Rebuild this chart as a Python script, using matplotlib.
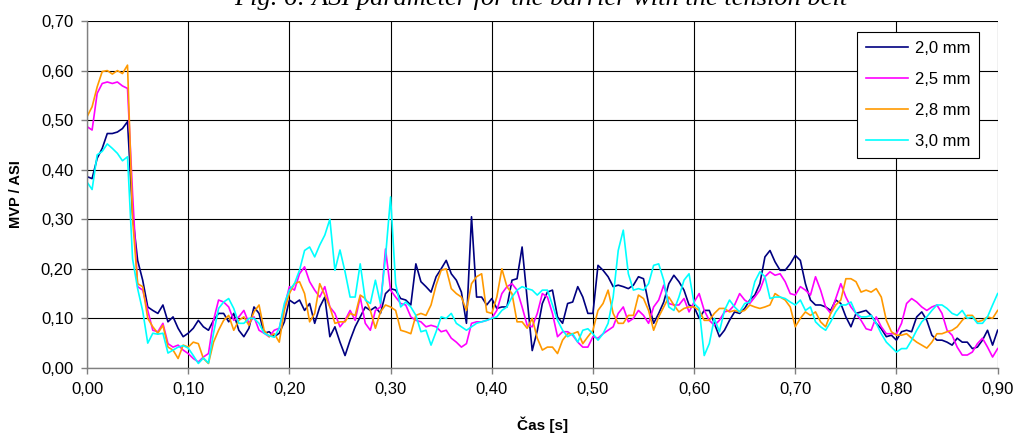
import matplotlib
matplotlib.use("Agg")
import matplotlib.pyplot as plt
import numpy as np
from matplotlib.ticker import FuncFormatter, MultipleLocator

plt.rcParams['font.family'] = ['Liberation Sans', 'DejaVu Sans']

# time axis: samples every 0.005 s from 0.00 to 0.90 s
t_start, t_stop, t_step = 0.0, 0.90, 0.005

# MVP / ASI values (10 samples per row = 0.05 s)
asi_20 = [
    0.386, 0.382, 0.423, 0.443, 0.473, 0.473, 0.476, 0.483, 0.497, 0.310,
    0.217, 0.177, 0.123, 0.116, 0.110, 0.127, 0.093, 0.103, 0.080, 0.063,
    0.070, 0.080, 0.096, 0.083, 0.076, 0.096, 0.110, 0.110, 0.093, 0.110,
    0.076, 0.063, 0.080, 0.123, 0.110, 0.070, 0.073, 0.063, 0.070, 0.093,
    0.137, 0.130, 0.137, 0.116, 0.130, 0.090, 0.123, 0.143, 0.063, 0.083,
    0.052, 0.025, 0.056, 0.083, 0.103, 0.123, 0.116, 0.123, 0.110, 0.150,
    0.160, 0.157, 0.140, 0.137, 0.127, 0.210, 0.174, 0.164, 0.153, 0.184,
    0.200, 0.217, 0.190, 0.177, 0.153, 0.090, 0.305, 0.143, 0.143, 0.127,
    0.140, 0.120, 0.123, 0.123, 0.177, 0.180, 0.244, 0.140, 0.035, 0.075,
    0.130, 0.153, 0.157, 0.103, 0.090, 0.130, 0.133, 0.164, 0.143, 0.110,
    0.110, 0.207, 0.197, 0.184, 0.164, 0.167, 0.164, 0.160, 0.167, 0.184,
    0.180, 0.130, 0.090, 0.110, 0.133, 0.170, 0.187, 0.174, 0.157, 0.127,
    0.123, 0.100, 0.116, 0.116, 0.090, 0.063, 0.076, 0.096, 0.113, 0.110,
    0.120, 0.137, 0.147, 0.170, 0.224, 0.237, 0.214, 0.197, 0.197, 0.210,
    0.227, 0.217, 0.170, 0.137, 0.127, 0.127, 0.123, 0.116, 0.137, 0.130,
    0.103, 0.083, 0.110, 0.113, 0.116, 0.106, 0.090, 0.079, 0.063, 0.066,
    0.056, 0.073, 0.076, 0.073, 0.103, 0.113, 0.096, 0.066, 0.056, 0.056,
    0.052, 0.046, 0.060, 0.052, 0.052, 0.039, 0.042, 0.056, 0.076, 0.046,
    0.076,
]

asi_25 = [
    0.487, 0.480, 0.554, 0.574, 0.577, 0.574, 0.577, 0.569, 0.564, 0.352,
    0.164, 0.157, 0.116, 0.076, 0.073, 0.090, 0.049, 0.042, 0.046, 0.036,
    0.029, 0.019, 0.012, 0.022, 0.029, 0.096, 0.137, 0.133, 0.123, 0.096,
    0.103, 0.116, 0.090, 0.103, 0.076, 0.070, 0.063, 0.076, 0.080, 0.123,
    0.164, 0.157, 0.190, 0.204, 0.174, 0.157, 0.143, 0.164, 0.123, 0.110,
    0.083, 0.096, 0.116, 0.096, 0.143, 0.090, 0.076, 0.116, 0.123, 0.240,
    0.157, 0.143, 0.130, 0.127, 0.103, 0.096, 0.093, 0.083, 0.086, 0.083,
    0.073, 0.076, 0.060, 0.052, 0.042, 0.049, 0.090, 0.093, 0.093, 0.096,
    0.100, 0.116, 0.150, 0.164, 0.170, 0.157, 0.123, 0.086, 0.083, 0.110,
    0.150, 0.143, 0.110, 0.063, 0.073, 0.073, 0.066, 0.052, 0.042, 0.042,
    0.063, 0.060, 0.069, 0.076, 0.083, 0.110, 0.123, 0.093, 0.100, 0.116,
    0.106, 0.090, 0.123, 0.137, 0.167, 0.130, 0.127, 0.127, 0.140, 0.113,
    0.133, 0.150, 0.116, 0.096, 0.086, 0.096, 0.113, 0.116, 0.127, 0.150,
    0.137, 0.130, 0.143, 0.157, 0.184, 0.194, 0.187, 0.190, 0.174, 0.150,
    0.147, 0.164, 0.157, 0.147, 0.184, 0.157, 0.123, 0.110, 0.140, 0.170,
    0.143, 0.123, 0.110, 0.096, 0.079, 0.076, 0.103, 0.083, 0.069, 0.069,
    0.069, 0.090, 0.130, 0.140, 0.133, 0.123, 0.116, 0.123, 0.127, 0.110,
    0.076, 0.066, 0.042, 0.026, 0.026, 0.032, 0.049, 0.060, 0.042, 0.022,
    0.039,
]

asi_28 = [
    0.507, 0.527, 0.567, 0.598, 0.600, 0.593, 0.600, 0.594, 0.611, 0.300,
    0.170, 0.164, 0.100, 0.083, 0.070, 0.086, 0.042, 0.036, 0.019, 0.046,
    0.042, 0.052, 0.049, 0.019, 0.009, 0.052, 0.076, 0.096, 0.106, 0.076,
    0.096, 0.103, 0.086, 0.113, 0.127, 0.076, 0.063, 0.069, 0.052, 0.116,
    0.150, 0.170, 0.174, 0.150, 0.093, 0.110, 0.170, 0.147, 0.123, 0.090,
    0.093, 0.093, 0.110, 0.106, 0.147, 0.140, 0.116, 0.080, 0.113, 0.127,
    0.123, 0.116, 0.076, 0.073, 0.069, 0.106, 0.110, 0.106, 0.127, 0.167,
    0.197, 0.200, 0.160, 0.150, 0.143, 0.116, 0.170, 0.184, 0.190, 0.113,
    0.110, 0.143, 0.200, 0.164, 0.150, 0.093, 0.093, 0.080, 0.100, 0.060,
    0.036, 0.042, 0.042, 0.029, 0.056, 0.069, 0.069, 0.073, 0.049, 0.063,
    0.076, 0.116, 0.130, 0.157, 0.110, 0.090, 0.090, 0.106, 0.106, 0.147,
    0.140, 0.116, 0.076, 0.103, 0.123, 0.143, 0.127, 0.113, 0.120, 0.123,
    0.123, 0.116, 0.096, 0.096, 0.110, 0.120, 0.120, 0.113, 0.116, 0.113,
    0.116, 0.127, 0.123, 0.120, 0.123, 0.127, 0.150, 0.143, 0.137, 0.123,
    0.083, 0.100, 0.113, 0.106, 0.113, 0.093, 0.083, 0.110, 0.127, 0.137,
    0.180, 0.180, 0.174, 0.153, 0.157, 0.153, 0.160, 0.143, 0.096, 0.073,
    0.066, 0.066, 0.069, 0.060, 0.052, 0.046, 0.040, 0.052, 0.069, 0.069,
    0.073, 0.076, 0.083, 0.096, 0.106, 0.106, 0.093, 0.096, 0.103, 0.100,
    0.116,
]

asi_30 = [
    0.375, 0.360, 0.430, 0.437, 0.452, 0.443, 0.433, 0.418, 0.426, 0.220,
    0.160, 0.115, 0.050, 0.070, 0.068, 0.070, 0.030, 0.036, 0.042, 0.045,
    0.040, 0.025, 0.009, 0.020, 0.010, 0.070, 0.120, 0.133, 0.140, 0.120,
    0.090, 0.090, 0.100, 0.100, 0.090, 0.070, 0.065, 0.062, 0.080, 0.130,
    0.157, 0.170, 0.197, 0.237, 0.244, 0.224, 0.248, 0.268, 0.300, 0.197,
    0.238, 0.194, 0.143, 0.143, 0.210, 0.137, 0.130, 0.177, 0.130, 0.224,
    0.345, 0.170, 0.123, 0.133, 0.123, 0.106, 0.073, 0.076, 0.046, 0.073,
    0.103, 0.100, 0.110, 0.090, 0.083, 0.076, 0.083, 0.090, 0.093, 0.096,
    0.100, 0.103, 0.116, 0.123, 0.143, 0.157, 0.164, 0.160, 0.157, 0.147,
    0.157, 0.157, 0.127, 0.096, 0.076, 0.063, 0.069, 0.052, 0.076, 0.079,
    0.069, 0.056, 0.069, 0.090, 0.143, 0.237, 0.278, 0.190, 0.157, 0.160,
    0.157, 0.170, 0.207, 0.210, 0.177, 0.123, 0.116, 0.143, 0.177, 0.190,
    0.130, 0.120, 0.025, 0.049, 0.100, 0.073, 0.116, 0.137, 0.123, 0.113,
    0.130, 0.133, 0.174, 0.194, 0.184, 0.140, 0.143, 0.143, 0.140, 0.133,
    0.127, 0.137, 0.116, 0.123, 0.093, 0.083, 0.076, 0.093, 0.113, 0.127,
    0.127, 0.133, 0.110, 0.103, 0.103, 0.106, 0.090, 0.069, 0.052, 0.042,
    0.032, 0.039, 0.039, 0.056, 0.076, 0.093, 0.103, 0.116, 0.127, 0.127,
    0.120, 0.110, 0.106, 0.116, 0.100, 0.103, 0.090, 0.090, 0.103, 0.127,
    0.150,
]

labels = ['2,0 mm', '2,5 mm', '2,8 mm', '3,0 mm']
colors = ['#000080', '#FF00FF', '#FF9900', '#00FFFF']

t = np.arange(len(asi_20)) * t_step + t_start

fig = plt.figure(figsize=(10.18, 4.38), dpi=100)
ax = fig.add_axes([0.0855, 0.160, 0.8945, 0.792])

for vals, lab, col in zip([asi_20, asi_25, asi_28, asi_30], labels, colors):
    ax.plot(t, vals, color=col, lw=1.2, label=lab)

ax.set_xlim(t_start, t_stop)
ax.set_ylim(0, 0.70)
ax.xaxis.set_major_locator(MultipleLocator(0.10))
ax.yaxis.set_major_locator(MultipleLocator(0.10))
comma = FuncFormatter(lambda v, p: f"{v:.2f}".replace('.', ','))
ax.xaxis.set_major_formatter(comma)
ax.yaxis.set_major_formatter(comma)
ax.grid(True, color='black', lw=0.8)
ax.set_axisbelow(True)

for s in ['top', 'right']:
    ax.spines[s].set_visible(False)
for s in ['left', 'bottom']:
    ax.spines[s].set_color('#808080')
    ax.spines[s].set_linewidth(1.0)
ax.tick_params(axis='both', direction='out', length=4, width=1.0,
               color='#808080', labelsize=12, pad=6)

ax.set_xlabel('Čas [s]', fontsize=11, fontweight='bold', labelpad=14)
ax.set_ylabel('MVP / ASI', fontsize=10.5, fontweight='bold', labelpad=13)

leg = ax.legend(loc='upper right', bbox_to_anchor=(0.980, 0.968),
                fontsize=12, frameon=True, fancybox=False, framealpha=1,
                edgecolor='black', handlelength=2.5, handletextpad=0.4,
                labelspacing=0.95, borderpad=0.55, borderaxespad=0)
leg.get_frame().set_linewidth(0.8)

# title is partly clipped by the top edge, as in the source figure
fig.text(0.531, 1 - 5 / 438, 'Fig. 6: ASI parameter for the barrier with the tension belt',
         ha='center', va='baseline', fontsize=19, style='italic',
         family=['Liberation Serif', 'DejaVu Serif'])

fig.savefig('out.png', dpi=100)
